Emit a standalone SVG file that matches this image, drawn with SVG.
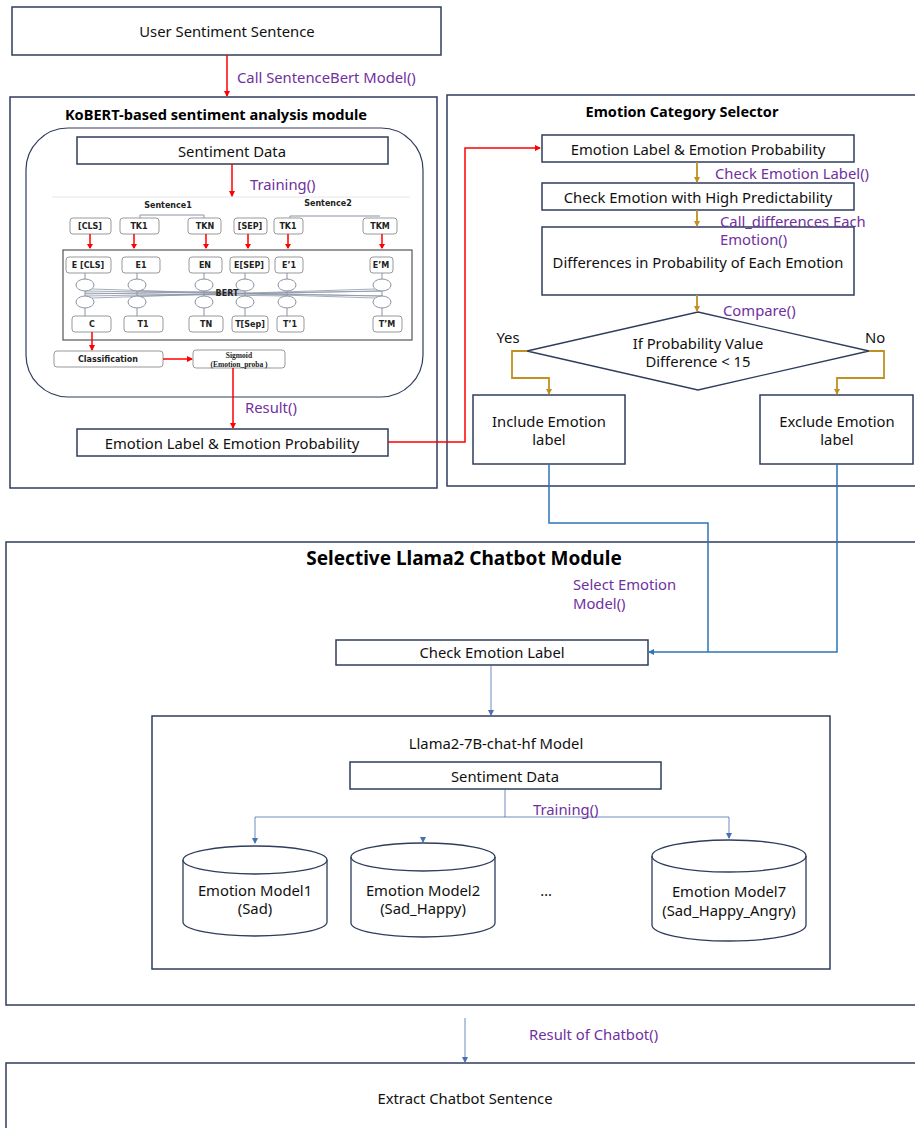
<svg xmlns="http://www.w3.org/2000/svg" width="915" height="1128" viewBox="0 0 915 1128">
<style>
.bx{fill:#fff;stroke:#2F3D5C;stroke-width:1.5}
.t{font-family:"Noto Sans","Liberation Sans",sans-serif;fill:#111;text-anchor:middle;dominant-baseline:central;font-size:14.8px}
.tb{font-family:"Noto Sans","Liberation Sans",sans-serif;font-weight:bold;fill:#000;text-anchor:middle;dominant-baseline:central}
.lb{font-family:"Noto Sans","Liberation Sans",sans-serif;fill:#7030A0;dominant-baseline:central;font-size:14.8px}
.red{fill:none;stroke:#FF0000;stroke-width:1.5}
.gold{fill:none;stroke:#C09020;stroke-width:1.8}
.blue{fill:none;stroke:#2E75B6;stroke-width:1.5}
.thin{fill:none;stroke:#4A6FB0;stroke-width:0.8}
.tok{fill:#fff;stroke:#999;stroke-width:1}
.tk{font-family:"DejaVu Sans","Liberation Sans",sans-serif;font-weight:bold;font-size:8px;fill:#222;text-anchor:middle;dominant-baseline:central}
.cir{fill:#fff;stroke:#8a93a3;stroke-width:1}
.g{stroke:#8a93a3;stroke-width:1;fill:none}
.mesh{stroke:#8f98a8;stroke-width:0.8;fill:none}
</style>
<defs>
<marker id="ar" markerWidth="6" markerHeight="6" refX="5" refY="3" orient="auto" markerUnits="userSpaceOnUse"><path d="M0,0 L6,3 L0,6 z" fill="#FF0000"/></marker>
<marker id="ag" markerWidth="6" markerHeight="6" refX="5" refY="3" orient="auto" markerUnits="userSpaceOnUse"><path d="M0,0 L6,3 L0,6 z" fill="#C09020"/></marker>
<marker id="ab" markerWidth="6" markerHeight="6" refX="5" refY="3" orient="auto" markerUnits="userSpaceOnUse"><path d="M0,0 L6,3 L0,6 z" fill="#2E75B6"/></marker>
<marker id="at" markerWidth="6" markerHeight="6" refX="5" refY="3" orient="auto" markerUnits="userSpaceOnUse"><path d="M0,0 L6,3 L0,6 z" fill="#4A6FB0"/></marker>
</defs>

<g id="user-sentence">
<rect class="bx" x="12" y="7" width="429" height="48"/>
<text class="t" x="227" y="31">User Sentiment Sentence</text>
</g>

<g id="kobert-module">
<rect class="bx" x="10" y="97" width="427" height="391"/>
<text class="tb" x="216" y="114" font-size="14.6">KoBERT-based sentiment analysis module</text>
<rect x="26" y="128" width="397" height="269" rx="42" fill="none" stroke="#2F3D5C" stroke-width="1.2"/>
</g>

<g id="sentiment-data-1">
<rect class="bx" x="77" y="137" width="311" height="27"/>
<text class="t" x="232" y="151">Sentiment Data</text>
</g>

<g id="bert-figure">
<line x1="52" y1="197" x2="410" y2="197" stroke="#e6e6e6" stroke-width="1"/>
<text class="tk" x="168" y="205" font-size="8.5">Sentence1</text>
<text class="tk" x="328" y="203" font-size="8.5">Sentence2</text>
<path class="g" d="M140,220 V215 H204 V220"/>
<path class="g" d="M290,220 V216 H380"/>
<rect class="tok" x="70" y="218" width="41" height="16" rx="3"/><text class="tk" x="90" y="226">[CLS]</text>
<rect class="tok" x="120" y="218" width="39" height="16" rx="3"/><text class="tk" x="139" y="226">TK1</text>
<rect class="tok" x="188" y="218" width="33" height="16" rx="3"/><text class="tk" x="205" y="226">TKN</text>
<rect class="tok" x="234" y="218" width="33" height="16" rx="3"/><text class="tk" x="250" y="226">[SEP]</text>
<rect class="tok" x="274" y="218" width="29" height="16" rx="3"/><text class="tk" x="288" y="226">TK1</text>
<rect class="tok" x="363" y="218" width="34" height="16" rx="3"/><text class="tk" x="380" y="226">TKM</text>
<rect x="63" y="250" width="349" height="90" fill="none" stroke="#555" stroke-width="1.2"/>
<rect class="tok" x="66" y="257" width="45" height="16" rx="3"/><text class="tk" x="88" y="265">E [CLS]</text>
<rect class="tok" x="122" y="257" width="38" height="16" rx="3"/><text class="tk" x="141" y="265">E1</text>
<rect class="tok" x="189" y="257" width="33" height="16" rx="3"/><text class="tk" x="205" y="265">EN</text>
<rect class="tok" x="230" y="257" width="39" height="16" rx="3"/><text class="tk" x="249" y="265">E[SEP]</text>
<rect class="tok" x="275" y="257" width="28" height="16" rx="3"/><text class="tk" x="289" y="265">E’1</text>
<rect class="tok" x="370" y="257" width="23" height="16" rx="3"/><text class="tk" x="381" y="265">E’M</text>
<path class="g" d="M85,273 V279 M85,291 V296 M85,308 V316 M137,273 V279 M137,291 V296 M137,308 V316 M204,273 V279 M204,291 V296 M204,308 V316 M245,273 V279 M245,291 V296 M245,308 V316 M287,273 V279 M287,291 V296 M287,308 V316 M382,273 V279 M382,291 V296 M382,308 V316"/>
<path class="mesh" d="M85,291 L382,296 M85,296 L382,291 M92,289 L375,298 M92,298 L375,289 M137,291 L382,296 M85,293 L287,296 M85,294 L245,291 M137,296 L382,291"/>
<ellipse class="cir" cx="85" cy="285" rx="9" ry="6"/><ellipse class="cir" cx="85" cy="302" rx="9" ry="6"/>
<ellipse class="cir" cx="137" cy="285" rx="9" ry="6"/><ellipse class="cir" cx="137" cy="302" rx="9" ry="6"/>
<ellipse class="cir" cx="204" cy="285" rx="9" ry="6"/><ellipse class="cir" cx="204" cy="302" rx="9" ry="6"/>
<ellipse class="cir" cx="245" cy="285" rx="9" ry="6"/><ellipse class="cir" cx="245" cy="302" rx="9" ry="6"/>
<ellipse class="cir" cx="287" cy="285" rx="9" ry="6"/><ellipse class="cir" cx="287" cy="302" rx="9" ry="6"/>
<ellipse class="cir" cx="382" cy="285" rx="9" ry="6"/><ellipse class="cir" cx="382" cy="302" rx="9" ry="6"/>
<text class="tk" x="227" y="293" font-size="8.5">BERT</text>
<rect class="tok" x="72" y="316" width="39" height="16" rx="3"/><text class="tk" x="92" y="324">C</text>
<rect class="tok" x="124" y="316" width="39" height="16" rx="3"/><text class="tk" x="143" y="324">T1</text>
<rect class="tok" x="189" y="316" width="34" height="16" rx="3"/><text class="tk" x="206" y="324">TN</text>
<rect class="tok" x="232" y="316" width="36" height="16" rx="3"/><text class="tk" x="250" y="324">T[Sep]</text>
<rect class="tok" x="277" y="316" width="27" height="16" rx="3"/><text class="tk" x="290" y="324">T’1</text>
<rect class="tok" x="373" y="316" width="29" height="16" rx="3"/><text class="tk" x="387" y="324">T’M</text>
<rect class="tok" x="54" y="351" width="109" height="16" rx="3"/><text class="tk" x="108" y="359">Classification</text>
<rect class="tok" x="193" y="350" width="92" height="18" rx="3"/>
<text x="239" y="355" font-family="Liberation Serif,serif" font-weight="bold" font-size="7.5" text-anchor="middle" dominant-baseline="central" fill="#222">Sigmoid</text>
<text x="239" y="364" font-family="Liberation Serif,serif" font-weight="bold" font-size="7.5" text-anchor="middle" dominant-baseline="central" fill="#222">(Emotion_proba )</text>
</g>

<g id="emotion-label-left">
<rect class="bx" x="77" y="429" width="311" height="27"/>
<text class="t" x="232" y="443">Emotion Label &amp; Emotion Probability</text>
</g>

<g id="emotion-category-selector">
<rect class="bx" x="447" y="95" width="470" height="391"/>
<text class="tb" x="682" y="111" font-size="14.5">Emotion Category Selector</text>
</g>
<g id="emotion-label-right">
<rect class="bx" x="542" y="135" width="312" height="27"/>
<text class="t" x="698" y="149">Emotion Label &amp; Emotion Probability</text>
</g>
<g id="check-high">
<rect class="bx" x="542" y="183" width="312" height="27"/>
<text class="t" x="698" y="197">Check Emotion with High Predictability</text>
</g>
<g id="differences">
<rect class="bx" x="542" y="227" width="312" height="68"/>
<text class="t" x="698" y="262">Differences in Probability of Each Emotion</text>
</g>
<g id="decision">
<polygon points="698,312 869,351 698,390 527,351" fill="#fff" stroke="#2F3D5C" stroke-width="1.3"/>
<text class="t" x="698" y="343">If Probability Value</text>
<text class="t" x="698" y="361">Difference &lt; 15</text>
</g>
<g id="include">
<rect class="bx" x="473" y="395" width="152" height="69"/>
<text class="t" x="549" y="421">Include Emotion</text>
<text class="t" x="549" y="439">label</text>
</g>
<g id="exclude">
<rect class="bx" x="760" y="395" width="153" height="69"/>
<text class="t" x="837" y="421">Exclude Emotion</text>
<text class="t" x="837" y="439">label</text>
</g>

<g id="selective-module">
<rect class="bx" x="6" y="542" width="911" height="463"/>
<text class="tb" x="464" y="558" font-size="19">Selective Llama2 Chatbot Module</text>
</g>
<g id="check-emotion-label">
<rect class="bx" x="336" y="640" width="312" height="25"/>
<text class="t" x="492" y="652">Check Emotion Label</text>
</g>
<g id="llama-model">
<rect class="bx" x="152" y="716" width="678" height="253"/>
<text class="t" x="496" y="743">Llama2-7B-chat-hf Model</text>
</g>
<g id="sentiment-data-2">
<rect class="bx" x="350" y="762" width="311" height="27"/>
<text class="t" x="505" y="776">Sentiment Data</text>
</g>
<g id="model1">
<path d="M183,860 A72,14 0 0 1 327,860 V922 A72,14 0 0 1 183,922 Z" fill="#fff" stroke="#2F3D5C" stroke-width="1.3"/>
<path d="M183,860 A72,14 0 0 0 327,860" fill="none" stroke="#2F3D5C" stroke-width="1.3"/>
<text class="t" x="255" y="890">Emotion Model1</text>
<text class="t" x="255" y="908">(Sad)</text>
</g>
<g id="model2">
<path d="M351,857 A72,14 0 0 1 495,857 V923 A72,14 0 0 1 351,923 Z" fill="#fff" stroke="#2F3D5C" stroke-width="1.3"/>
<path d="M351,857 A72,14 0 0 0 495,857" fill="none" stroke="#2F3D5C" stroke-width="1.3"/>
<text class="t" x="423" y="890">Emotion Model2</text>
<text class="t" x="423" y="908">(Sad_Happy)</text>
</g>
<text class="t" x="546" y="890">…</text>
<g id="model7">
<path d="M652,856 A77,16 0 0 1 806,856 V925 A77,16 0 0 1 652,925 Z" fill="#fff" stroke="#2F3D5C" stroke-width="1.3"/>
<path d="M652,856 A77,16 0 0 0 806,856" fill="none" stroke="#2F3D5C" stroke-width="1.3"/>
<text class="t" x="729" y="891">Emotion Model7</text>
<text class="t" x="729" y="910">(Sad_Happy_Angry)</text>
</g>
<g id="extract">
<rect class="bx" x="6" y="1063" width="911" height="70"/>
<text class="t" x="465" y="1098">Extract Chatbot Sentence</text>
</g>

<g id="connectors">
<line class="red" x1="227" y1="55" x2="227" y2="96" marker-end="url(#ar)"/>
<text class="lb" x="237" y="77">Call SentenceBert Model()</text>
<line class="red" x1="232" y1="164" x2="232" y2="196" marker-end="url(#ar)"/>
<text class="lb" x="250" y="184">Training()</text>
<path class="red" d="M90,234 V248 M134,234 V248 M206,234 V248 M248,234 V248 M288,234 V248 M382,234 V248" stroke-width="1.2"/>
<path d="M87,244 L90,249 L93,244 Z M131,244 L134,249 L137,244 Z M203,244 L206,249 L209,244 Z M245,244 L248,249 L251,244 Z M285,244 L288,249 L291,244 Z M379,244 L382,249 L385,244 Z" fill="#FF0000"/>
<line class="red" x1="92" y1="332" x2="92" y2="350" stroke-width="1.2" marker-end="url(#ar)"/>
<line class="red" x1="163" y1="359" x2="192" y2="359" stroke-width="1" marker-end="url(#ar)"/>
<line class="red" x1="233" y1="368" x2="233" y2="428" marker-end="url(#ar)"/>
<text class="lb" x="245" y="407">Result()</text>
<path class="red" d="M388,442 H465 V148 H540" marker-end="url(#ar)"/>

<line class="gold" x1="697" y1="162" x2="697" y2="182" marker-end="url(#ag)"/>
<text class="lb" x="715" y="173">Check Emotion Label()</text>
<line class="gold" x1="697" y1="210" x2="697" y2="226" marker-end="url(#ag)"/>
<text class="lb" x="720" y="221">Call_differences Each</text>
<text class="lb" x="720" y="239">Emotion()</text>
<line class="gold" x1="697" y1="295" x2="697" y2="311" marker-end="url(#ag)"/>
<text class="lb" x="723" y="310">Compare()</text>
<path class="gold" d="M527,351 H512 V378 H549 V394" marker-end="url(#ag)"/>
<path class="gold" d="M869,351 H884 V378 H837 V394" marker-end="url(#ag)"/>
<text class="t" x="508" y="337" fill="#222">Yes</text>
<text class="t" x="875" y="337" fill="#222">No</text>

<path class="blue" d="M549,464 V523 H708 V652"/>
<path class="blue" d="M837,464 V652 H649" marker-end="url(#ab)"/>
<text class="lb" x="573" y="584">Select Emotion</text>
<text class="lb" x="573" y="603">Model()</text>
<line class="thin" x1="491" y1="665" x2="491" y2="715" marker-end="url(#at)"/>

<path class="thin" d="M505,789 V817 M255,817 H729"/>
<line class="thin" x1="255" y1="817" x2="255" y2="843" marker-end="url(#at)"/>
<line class="thin" x1="729" y1="817" x2="729" y2="838" marker-end="url(#at)"/>
<line class="thin" x1="423" y1="837" x2="423" y2="842" marker-end="url(#at)"/>
<text class="lb" x="533" y="809">Training()</text>

<line class="thin" x1="465" y1="1018" x2="465" y2="1062" marker-end="url(#at)"/>
<text class="lb" x="529" y="1034">Result of Chatbot()</text>
</g>
</svg>
